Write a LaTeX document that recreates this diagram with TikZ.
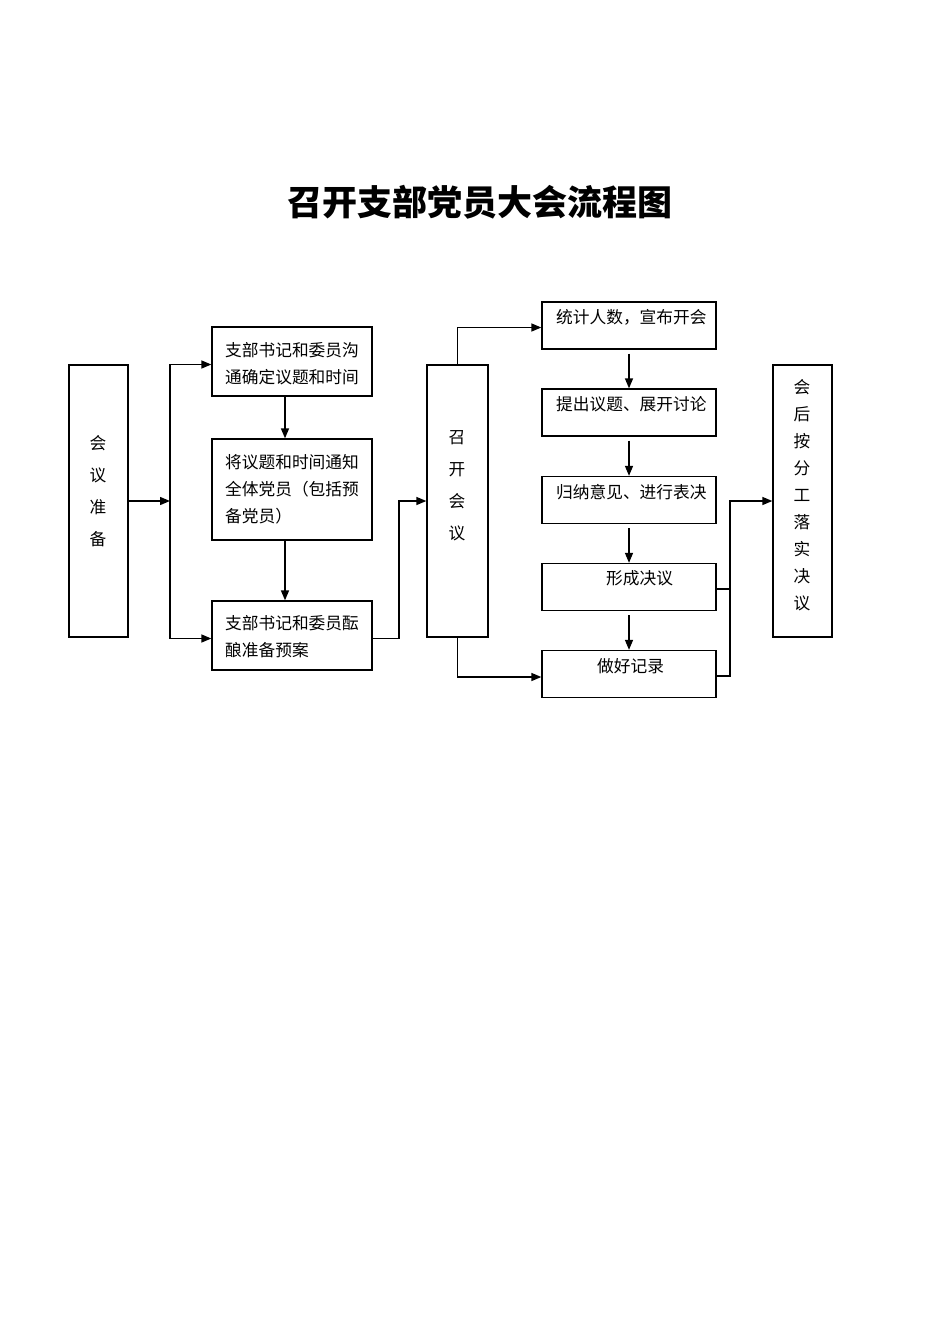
\documentclass[tikz,border=0pt]{standalone}
\usepackage{fontspec}
\newfontfamily\cjk{Noto Sans CJK SC}
\usetikzlibrary{arrows.meta}
\begin{document}
\begin{tikzpicture}[x=1pt,y=-1pt,
  box/.style={draw, line width=1.3pt, inner sep=0pt},
  txt/.style={inner sep=0pt, align=left, font=\cjk\fontsize{16.7}{27}\selectfont},
  vtxt/.style={inner sep=0pt, align=center, font=\cjk\fontsize{16.7}{32}\selectfont},
  conn/.style={line width=1.4pt},
  arr/.style={conn, -{Triangle[length=10pt,width=8pt]}}]
\useasboundingbox (0,0) rectangle (950,1344);
\fill[white] (0,0) rectangle (950,1344);

\node[font=\cjk\bfseries\fontsize{35}{35}\selectfont] (title) at (480,202) {召开支部党员大会流程图};

% boxes
\node[box, minimum width=59pt, minimum height=272pt] (prep) at (98.5,501) {};
\node[box, minimum width=160pt, minimum height=69pt] (b1) at (292,361.5) {};
\node[box, minimum width=160pt, minimum height=101pt] (b2) at (292,489.5) {};
\node[box, minimum width=160pt, minimum height=69pt] (b3) at (292,635.5) {};
\node[box, minimum width=61pt, minimum height=272pt] (meet) at (457.5,501) {};
\node[box, minimum width=174pt, minimum height=47pt] (r1) at (629,325.5) {};
\node[box, minimum width=174pt, minimum height=47pt] (r2) at (629,412.5) {};
\node[box, minimum width=174pt, minimum height=47pt] (r3) at (629,500) {};
\node[box, minimum width=174pt, minimum height=47pt] (r4) at (629,587) {};
\node[box, minimum width=174pt, minimum height=47pt] (r5) at (629,674) {};
\node[box, minimum width=59pt, minimum height=272pt] (post) at (802.5,501) {};

% texts
\node[vtxt] (tprep) at (98,491) {会\\议\\准\\备};
\node[vtxt] (tmeet) at (457,486) {召\\开\\会\\议};
\node[vtxt, font=\cjk\fontsize{16.7}{27}\selectfont] (tpost) at (802,495) {会\\后\\按\\分\\工\\落\\实\\决\\议};
\node[txt, anchor=north west] (tb1) at (225,342) {支部书记和委员沟\\通确定议题和时间};
\node[txt, anchor=north west] (tb2) at (225,454) {将议题和时间通知\\全体党员（包括预\\备党员）};
\node[txt, anchor=north west] (tb3) at (225,615) {支部书记和委员酝\\酿准备预案};
\node[txt, anchor=west] (tr1) at (556,317) {统计人数，宣布开会};
\node[txt, anchor=west] (tr2) at (556,404) {提出议题、展开讨论};
\node[txt, anchor=west] (tr3) at (556,492) {归纳意见、进行表决};
\node[txt, anchor=west] (tr4) at (606,578) {形成决议};
\node[txt, anchor=west] (tr5) at (597,666) {做好记录};

% connectors
\coordinate (split) at (170,501);
\draw[arr] (prep.east) -- (split);
\draw[arr] (split) |- ([yshift=-3pt]b1.west);
\draw[arr] (split) |- ([yshift=-3pt]b3.west);
\draw[arr] ([xshift=-7pt]b1.south) -- ([xshift=-7pt]b2.north);
\draw[arr] ([xshift=-7pt]b2.south) -- ([xshift=-7pt]b3.north);
\coordinate (j1) at (399,501);
\draw[arr] ([yshift=-3pt]b3.east) -| (j1) -- (meet.west);
\draw[arr] (meet.north) |- ([yshift=-2pt]r1.west);
\draw[arr] (meet.south) |- ([yshift=-3pt]r5.west);
\draw[arr] ([yshift=-4pt]r1.south) -- (r2.north);
\draw[arr] ([yshift=-4pt]r2.south) -- (r3.north);
\draw[arr] ([yshift=-4pt]r3.south) -- (r4.north);
\draw[arr] ([yshift=-4pt]r4.south) -- (r5.north);
\coordinate (j2) at (730,501);
\draw[conn] ([yshift=-2pt]r4.east) -| (j2);
\draw[arr] ([yshift=-2pt]r5.east) -| (j2) -- (post.west);
\end{tikzpicture}
\end{document}
